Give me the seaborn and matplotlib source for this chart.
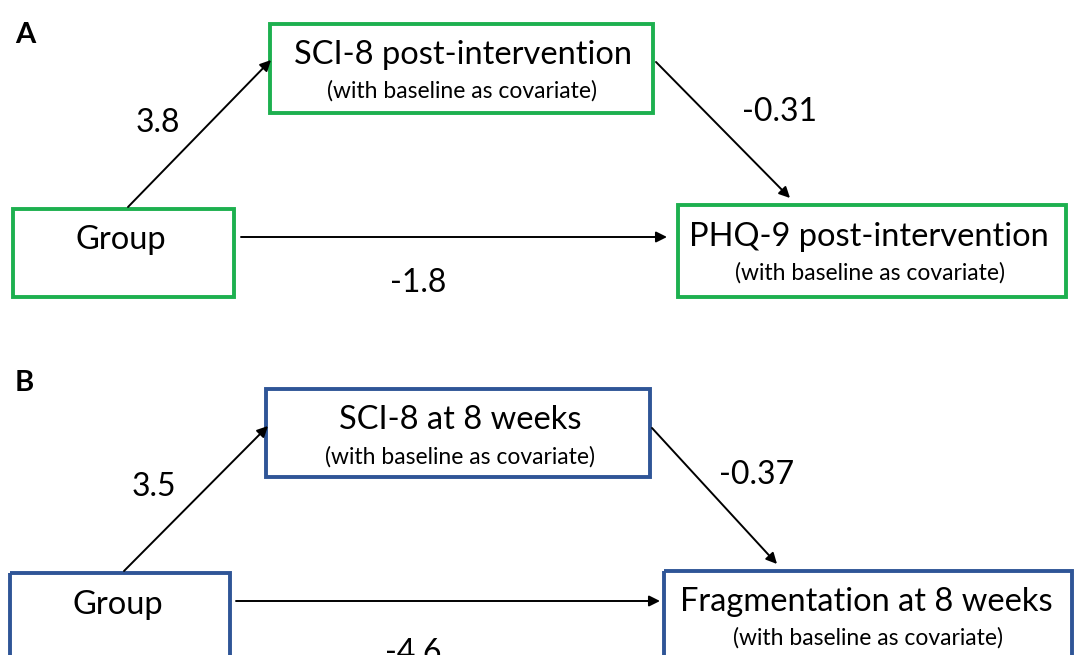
import matplotlib
matplotlib.use("Agg")
import matplotlib.pyplot as plt
from matplotlib.patches import Rectangle
import seaborn as sns

# ---- data ----
panel_labels = ["A", "B"]
predictor = ["Group", "Group"]
mediators = ["SCI-8 post-intervention", "SCI-8 at 8 weeks"]
outcomes = ["PHQ-9 post-intervention", "Fragmentation at 8 weeks"]
subtitle = "(with baseline as covariate)"
path_a = [3.8, 3.5]
path_b = [-0.31, -0.37]
path_c = [-1.8, -4.6]
box_colors = ["#1db04f", "#2f5597"]

sns.set_theme(style="white")
plt.rcParams['font.family'] = ['Lato', 'DejaVu Sans']
plt.rcParams['text.color'] = 'black'

fig = plt.figure(figsize=(10.75, 6.55), dpi=100)
ax = fig.add_axes([0, 0, 1, 1])
ax.set_xlim(0, 1075)
ax.set_ylim(655, 0)
ax.axis("off")

# layout (pixel coordinates) per panel
layout = [
    dict(lab=(15, 35),
         med=(270, 24, 653, 113), pred=(13, 209, 234, 297), out=(678, 205, 1066, 297),
         pred_txt=(121, 240), med_txt=(463, 55), med_sub=(462, 91),
         out_txt=(869, 237), out_sub=(870, 273),
         a_start=(128, 207), a_end=(271, 60), a_txt=(158, 123),
         b_start=(656, 62), b_end=(790, 198), b_txt=(780, 112),
         c_start=(241, 237), c_end=(667, 237), c_txt=(418, 283)),
    dict(lab=(15, 383),
         med=(266, 389, 650, 477), pred=(10, 573, 230, 700), out=(664, 571, 1072, 700),
         pred_txt=(118, 605), med_txt=(460, 420), med_sub=(460, 457),
         out_txt=(866, 602), out_sub=(868, 638),
         a_start=(124, 571), a_end=(268, 426), a_txt=(154, 487),
         b_start=(652, 428), b_end=(777, 564), b_txt=(757, 475),
         c_start=(236, 601), c_end=(660, 601), c_txt=(413, 653)),
]

main_fs = 23.5
sub_fs = 16.5
num_fs = 23

for i, L in enumerate(layout):
    col = box_colors[i]
    ax.text(*L["lab"], panel_labels[i], fontsize=21, fontweight="bold",
            ha="left", va="center", color="black")
    for key in ("med", "pred", "out"):
        x0, y0, x1, y1 = L[key]
        ax.add_patch(Rectangle((x0, y0), x1 - x0, y1 - y0, fill=False,
                               edgecolor=col, lw=2.8, clip_on=True))
    ax.text(*L["pred_txt"], predictor[i], fontsize=main_fs, ha="center", va="center")
    ax.text(*L["med_txt"], mediators[i], fontsize=main_fs, ha="center", va="center")
    ax.text(*L["med_sub"], subtitle, fontsize=sub_fs, ha="center", va="center")
    ax.text(*L["out_txt"], outcomes[i], fontsize=main_fs, ha="center", va="center")
    ax.text(*L["out_sub"], subtitle, fontsize=sub_fs, ha="center", va="center")
    for p, val in (("a", path_a[i]), ("b", path_b[i]), ("c", path_c[i])):
        ax.annotate("", xy=L[p + "_end"], xytext=L[p + "_start"],
                    arrowprops=dict(arrowstyle="-|>", color="black", lw=1.4,
                                    mutation_scale=16, shrinkA=0, shrinkB=0))
        ax.text(*L[p + "_txt"], f"{val:g}", fontsize=num_fs, ha="center", va="center")

fig.savefig("out.png", dpi=100, facecolor="white")
